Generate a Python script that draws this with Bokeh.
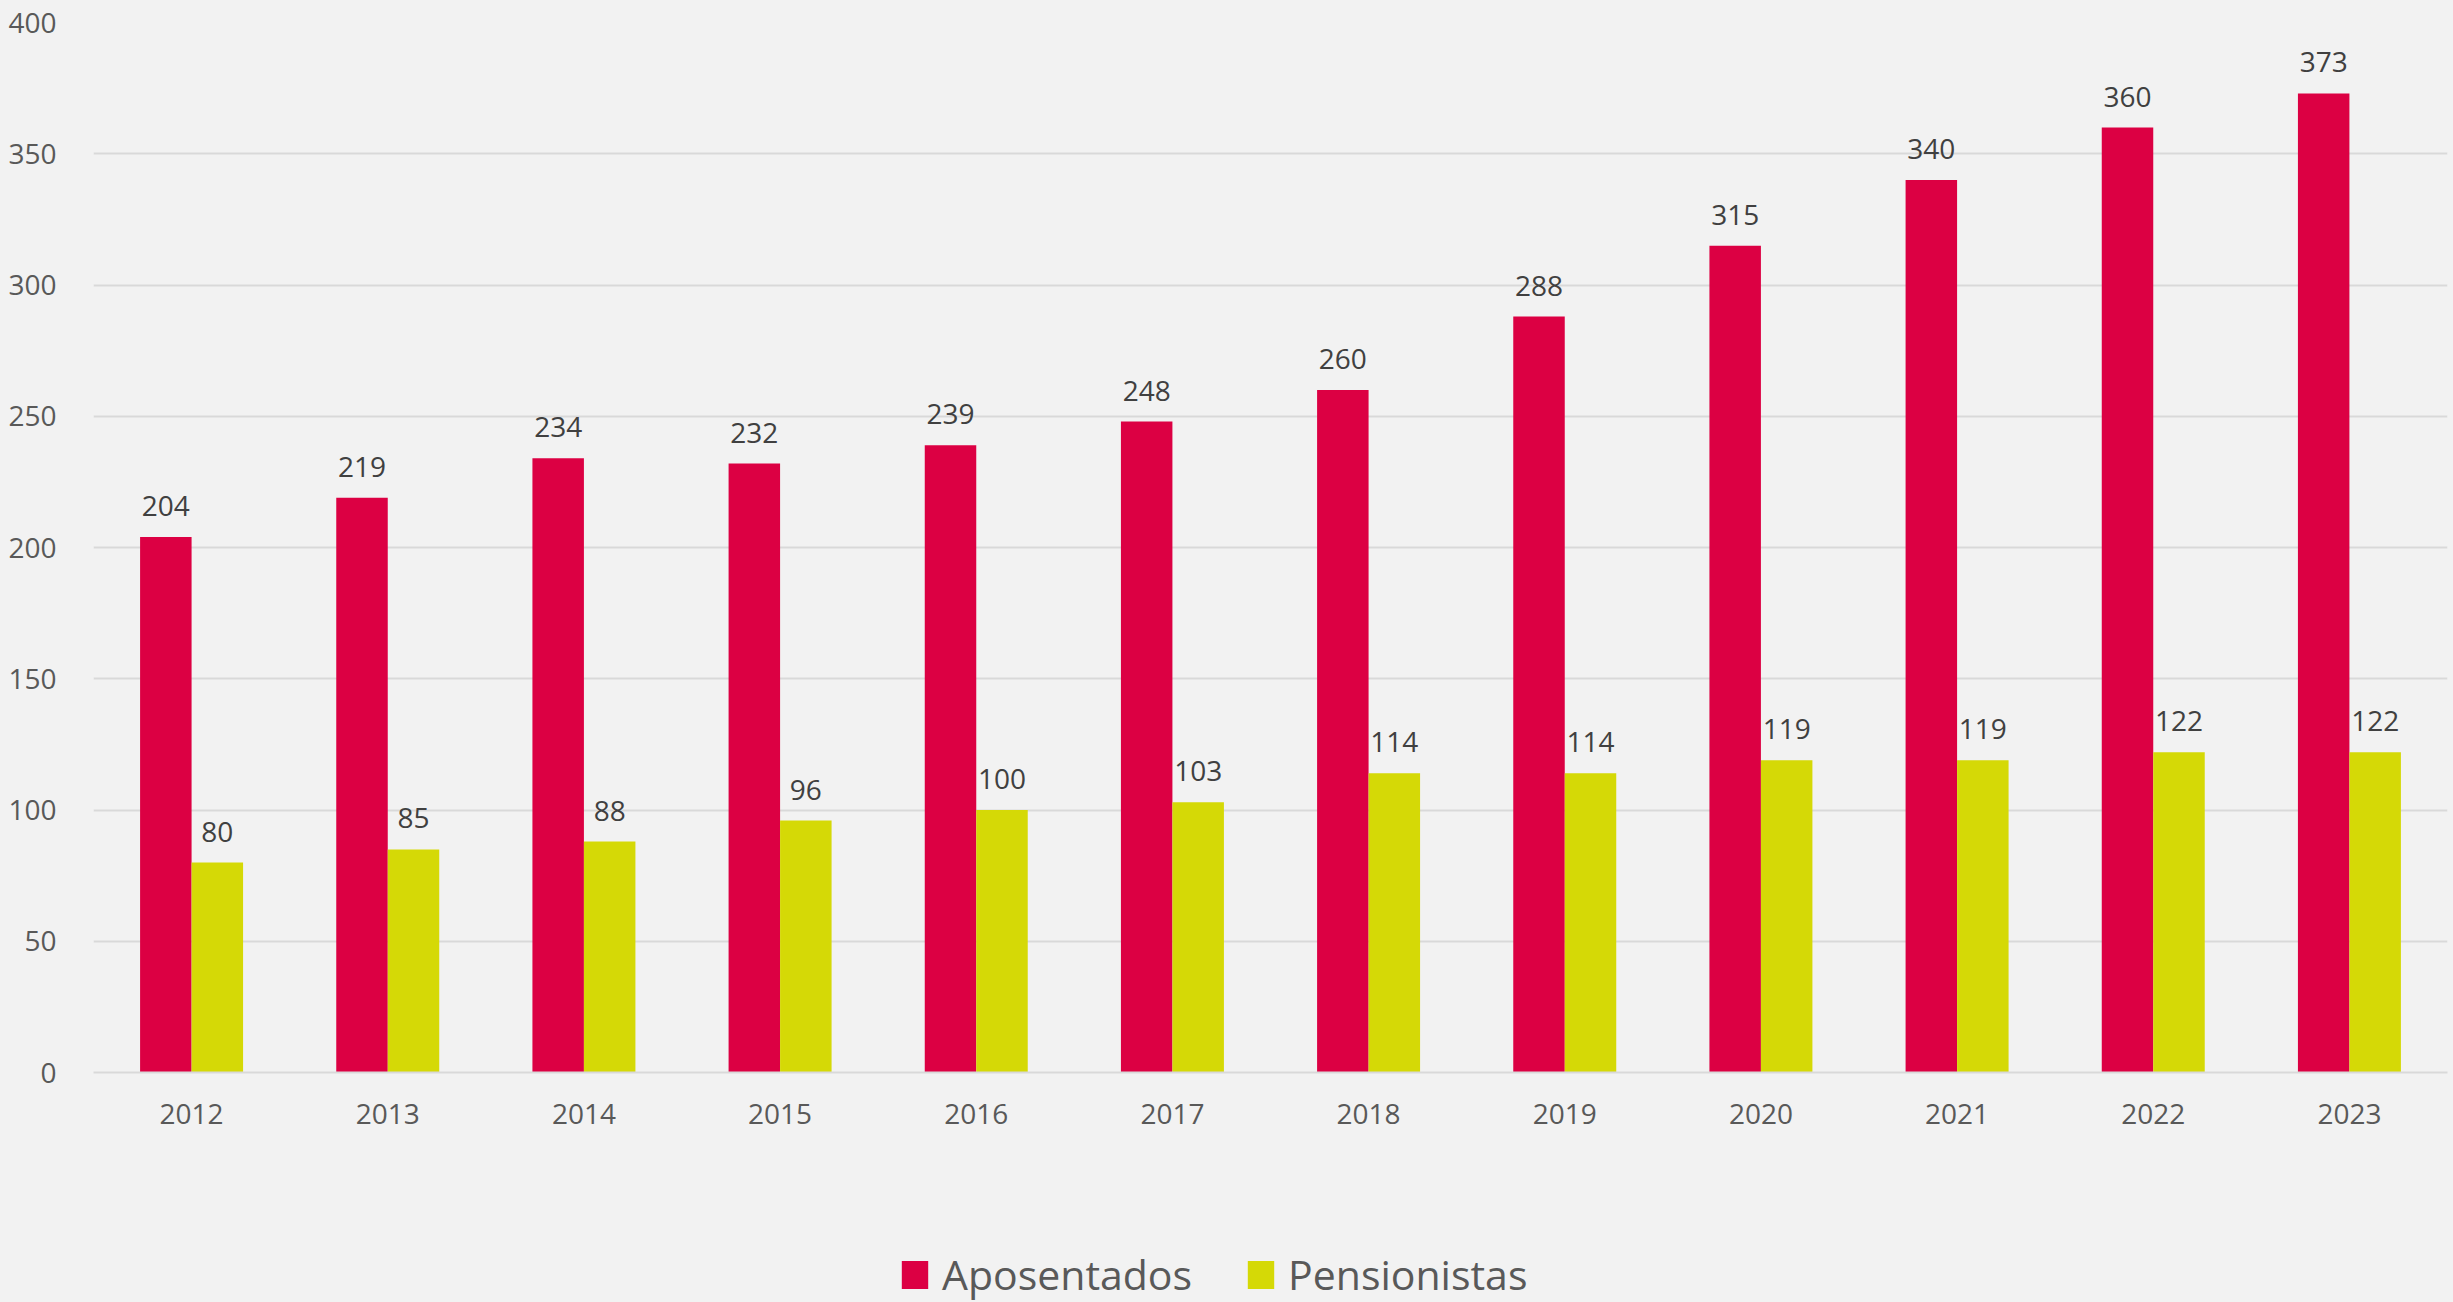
from bokeh.plotting import figure
from bokeh.layouts import column
from bokeh.models import ColumnDataSource, FixedTicker, Legend, LegendItem
from bokeh.transform import dodge
from bokeh.core.properties import value
from bokeh.embed import file_html
from bokeh.resources import INLINE

years = ["2012", "2013", "2014", "2015", "2016", "2017", "2018", "2019", "2020", "2021", "2022", "2023"]
aposentados = [204, 219, 234, 232, 239, 248, 260, 288, 315, 340, 360, 373]
pensionistas = [80, 85, 88, 96, 100, 103, 114, 114, 119, 119, 122, 122]
series_names = ["Aposentados", "Pensionistas"]
y_ticks = [0, 50, 100, 150, 200, 250, 300, 350, 400]

RED = "#DC0043"
YEL = "#D5D906"
BG = "#F2F2F2"
GRID = "#D9D9D9"
FONT = "Open Sans"

src = ColumnDataSource(dict(
    year=years,
    apo=aposentados,
    pen=pensionistas,
    apo_t=[str(v) for v in aposentados],
    pen_t=[str(v) for v in pensionistas],
))

MAIN_H = 1192
p = figure(x_range=years, y_range=(0, 400), width=2453, height=MAIN_H,
           output_backend="svg", toolbar_location=None,
           min_border_left=93, min_border_right=6, min_border_top=22, min_border_bottom=120)
p.background_fill_color = BG
p.border_fill_color = BG
p.outline_line_color = None

BW = 0.2625
OFF = BW / 2
r1 = p.vbar(x=dodge("year", -OFF, range=p.x_range), top="apo", width=BW, source=src,
            fill_color=RED, line_color=None)
r2 = p.vbar(x=dodge("year", OFF, range=p.x_range), top="pen", width=BW, source=src,
            fill_color=YEL, line_color=None)

p.text(x=dodge("year", -OFF, range=p.x_range), y="apo", text="apo_t", source=src,
       text_align="center", text_baseline="alphabetic", y_offset=-31,
       text_font=value(FONT), text_font_size="28px", text_color="#404040")
p.text(x=dodge("year", OFF, range=p.x_range), y="pen", text="pen_t", source=src,
       text_align="center", text_baseline="alphabetic", y_offset=-31,
       text_font=value(FONT), text_font_size="28px", text_color="#404040")

p.xgrid.grid_line_color = None
p.ygrid.grid_line_color = GRID
p.ygrid.grid_line_width = 2
p.yaxis.ticker = FixedTicker(ticks=y_ticks)

for ax in (p.xaxis[0], p.yaxis[0]):
    ax.major_tick_line_color = None
    ax.minor_tick_line_color = None
    ax.major_label_text_font = FONT
    ax.major_label_text_font_size = "28px"
    ax.major_label_text_color = "#595959"
p.yaxis.axis_line_color = None
p.yaxis.major_label_standoff = 31
p.xaxis.axis_line_color = GRID
p.xaxis.axis_line_width = 2
p.xaxis.major_label_standoff = 25

# legend strip
LEG_H = 1302 - MAIN_H
q = figure(width=2453, height=LEG_H, x_range=(0, 1), y_range=(0, 1),
           x_axis_type=None, y_axis_type=None, output_backend="svg", toolbar_location=None,
           min_border_left=93, min_border_right=6, min_border_top=0, min_border_bottom=0)
q.background_fill_color = BG
q.border_fill_color = BG
q.outline_line_color = None
q.grid.grid_line_color = None
hidden = ColumnDataSource(dict(x=[-10.0], top=[-10.0]))
d1 = q.vbar(x="x", top="top", width=0.1, source=hidden, fill_color=RED, line_color=None)
d2 = q.vbar(x="x", top="top", width=0.1, source=hidden, fill_color=YEL, line_color=None)

legend = Legend(items=[LegendItem(label=series_names[0], renderers=[d1]),
                       LegendItem(label=series_names[1], renderers=[d2])],
                orientation="horizontal", location=(805, 0),
                glyph_width=33, glyph_height=35, label_standoff=11, spacing=52,
                padding=0, margin=0, border_line_color=None, background_fill_alpha=0,
                label_text_font=FONT, label_text_font_size="41px", label_text_color="#595959")
q.add_layout(legend, "center")

layout = column(p, q, spacing=0, background=BG)
open("out.html", "w").write(file_html(layout, INLINE))
